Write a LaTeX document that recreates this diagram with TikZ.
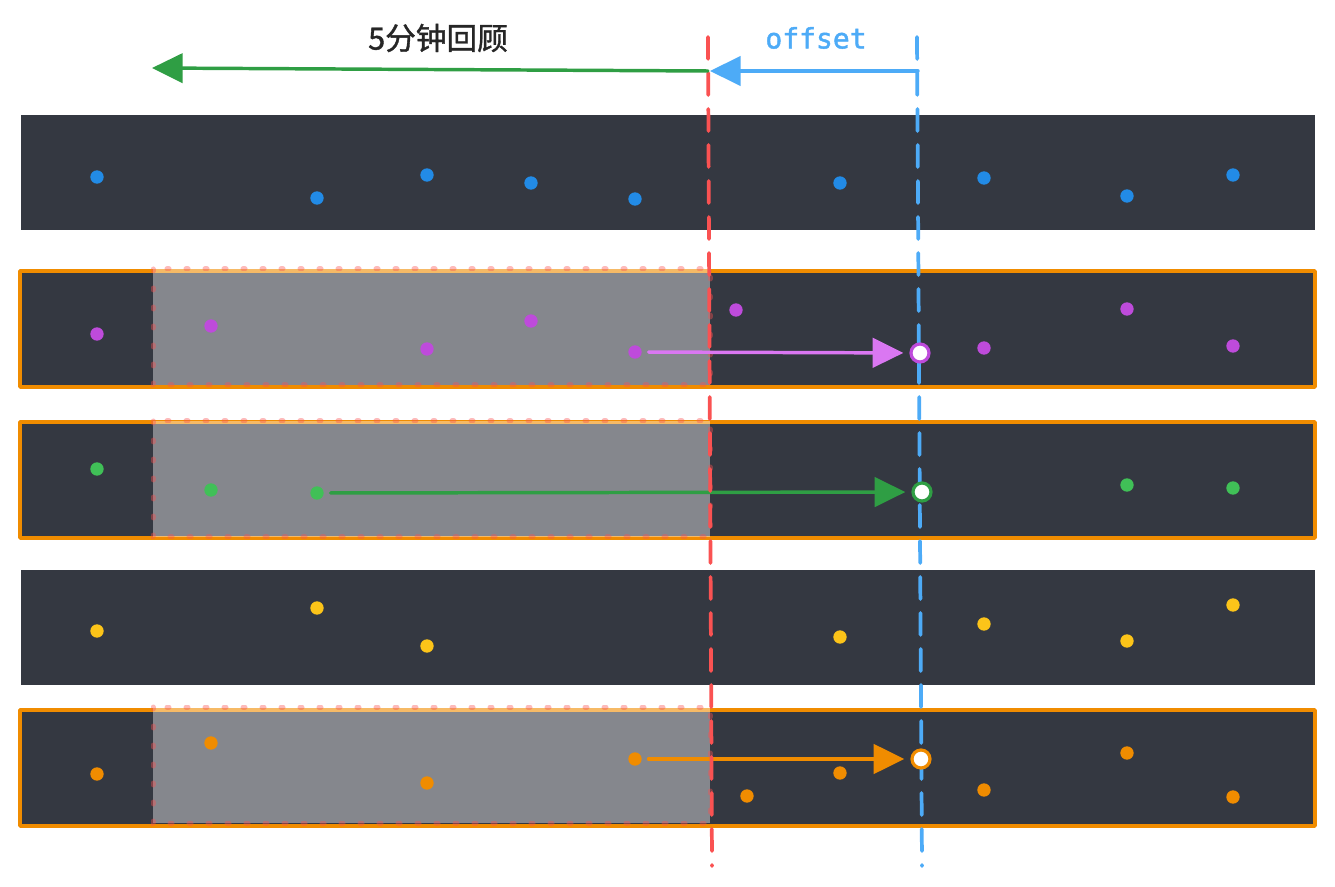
\documentclass[tikz,border=0pt]{standalone}
\usepackage{fontspec}
\newfontfamily\cjk[FakeBold=1.2]{Noto Sans CJK SC}
\newfontfamily\monof[FakeBold=1.5]{DejaVu Sans Mono}
\usetikzlibrary{arrows.meta}
\definecolor{band}{HTML}{343841}
\definecolor{orng}{HTML}{F08C00}
\definecolor{dblue}{HTML}{228BE6}
\definecolor{dpurp}{HTML}{BE4BDB}
\definecolor{dgreen}{HTML}{40C057}
\definecolor{agreen}{HTML}{2F9E44}
\definecolor{dyell}{HTML}{FCC419}
\definecolor{lred}{HTML}{FA5252}
\definecolor{lblue}{HTML}{4DABF7}
\definecolor{lpurp}{HTML}{DA77F2}
\tikzset{
  bandbox/.style={fill=band},
  selband/.style={fill=band, draw=orng, line width=2.6pt, line join=round},
  window/.style={fill=white, fill opacity=0.4},
  windowedge/.style={draw=lred, draw opacity=0.4, line width=3.75pt, line cap=round, dash pattern=on 1.5pt off 12.75pt},
  dot/.style={circle, inner sep=0pt, minimum size=10pt, draw=none},
  hollow/.style={circle, inner sep=0pt, minimum size=13.5pt, fill=white, line width=2.4pt},
  marker/.style={line width=2.8pt, line cap=round, dash pattern=on 16.5pt off 10.5pt},
  moveline/.style={line width=2.6pt, line cap=round, -{Triangle[length=23pt,width=22pt]}, shorten <=5pt, shorten >=12.5pt},
  topline/.style={line width=2.6pt, line cap=round, -{Triangle[length=23pt,width=22pt]}},
}
\begin{document}
\begin{tikzpicture}[x=0.75pt,y=-0.75pt]
\useasboundingbox (0,0) rectangle (1335,887);
% bands
\path[bandbox] (21,115) rectangle (1315,230);
\path[selband] (20,271) rectangle (1315,387);
\path[selband] (20,422) rectangle (1315,538);
\path[bandbox] (21,570) rectangle (1315,685);
\path[selband] (20,710) rectangle (1315,826);
% windows
\foreach \ya/\yb in {269/385, 421/537, 707/823}{
  \path[window] (153,\ya) rectangle (710,\yb);
  \path[windowedge] (153,\ya) rectangle (710,\yb);
}
% dots band 1
\foreach \x/\y [count=\i] in {97/177,317/198,427/175,531/183,635/199,840/183,984/178,1127/196,1233/175}
  \node[dot, fill=dblue] (a\i) at (\x,\y) {};
% band 2
\foreach \x/\y [count=\i] in {97/334,211/326,427/349,531/321,635/352,736/310,984/348,1127/309,1233/346}
  \node[dot, fill=dpurp] (b\i) at (\x,\y) {};
% band 3
\foreach \x/\y [count=\i] in {97/469,211/490,317/493,1127/485,1233/488}
  \node[dot, fill=dgreen] (c\i) at (\x,\y) {};
% band 4
\foreach \x/\y [count=\i] in {97/631,317/608,427/646,840/637,984/624,1127/641,1233/605}
  \node[dot, fill=dyell] (d\i) at (\x,\y) {};
% band 5
\foreach \x/\y [count=\i] in {97/774,211/743,427/783,635/759,747/796,840/773,984/790,1127/753,1233/797}
  \node[dot, fill=orng] (e\i) at (\x,\y) {};
% target coordinates
\coordinate (bt) at (920,353);
\coordinate (ct) at (922,492);
\coordinate (et) at (921,759);
% move arrows
\draw[moveline, draw=lpurp, fill=lpurp] (b5) -- (bt);
\draw[moveline, draw=agreen, fill=agreen] (c3) -- (ct);
\draw[moveline, draw=orng, fill=orng] (e4) -- (et);
% vertical markers
\coordinate (rtop) at (708,37);
\coordinate (rbot) at (712,866);
\coordinate (btop) at (917,37);
\coordinate (bbot) at (922,866);
\draw[marker, lred] (rtop) -- (rbot);
\draw[marker, lblue] (btop) -- (bbot);
% hollow targets
\node[hollow, draw=dpurp] (bh) at (bt) {};
\node[hollow, draw=agreen] (ch) at (ct) {};
\node[hollow, draw=orng] (eh) at (et) {};
% top arrows
\coordinate (ga) at (708,71);
\coordinate (gb) at (152,68);
\coordinate (ba) at (918,71);
\coordinate (bb) at (710,71);
\draw[topline, draw=agreen, fill=agreen] (ga) -- (gb);
\draw[topline, draw=lblue, fill=lblue] (ba) -- (bb);
\node[font=\cjk\fontsize{23pt}{27pt}\selectfont, text=black!85] (lbl) at (438,38) {5分钟回顾};
\node[font=\monof\fontsize{21pt}{25pt}\selectfont, text=lblue] (off) at (816,38) {offset};
\end{tikzpicture}
\end{document}
